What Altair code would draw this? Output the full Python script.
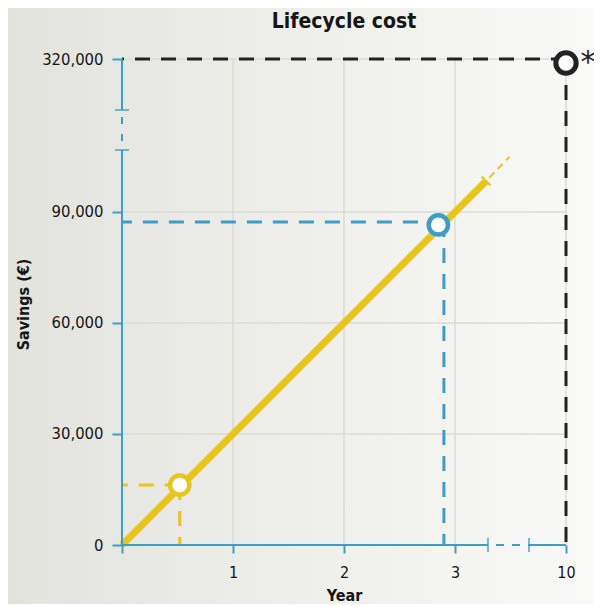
import altair as alt
import pandas as pd

# ---------------- data ----------------
TITLE = "Lifecycle cost"
X_TITLE = "Year"
Y_TITLE = "Savings (€)"

x_tick_years = [0, 1, 2, 3, 10]
x_tick_labels = ["", "1", "2", "3", "10"]
y_tick_values = [0, 30000, 60000, 90000, 320000]
y_tick_labels = ["0", "30,000", "60,000", "90,000", "320,000"]

# savings line
line_years = [0, 3.28]
line_values = [0, 98400]
ext_years = [3.31, 3.49]
ext_values = [99300, 104900]

# highlighted points
point_names = ["yellow", "blue", "black"]
point_years = [0.52, 2.85, 10]
point_values = [16200, 86500, 320000]
guide_years = [0.52, 2.90, 10]
guide_values = [16200, 87300, 320000]

# axis breaks (in data units, before the break)
x_break = [3.297, 3.667]
y_break = [106760, 117570]

# ---------------- style ----------------
FONT = "'Liberation Sans Narrow', 'DejaVu Sans Condensed', sans-serif"
BLUE = "#3b9dc8"
YELLOW = "#e8c41f"
BLACK = "#222222"
GRID = "#dcdcd6"
TEXT = "#151515"
point_colors = [YELLOW, BLUE, BLACK]

W, H = 444, 486
PAD = {"left": 114, "top": 51, "right": 28, "bottom": 59}

X_TOP = 4.0        # axis position of year 10 (after the break)
Y_TOP = 131350     # axis position of 320,000 (after the break)


def xpos(year):
    return year if year <= 3.6 else X_TOP + (year - 10) / 20.0


def ypos(v):
    return v if v <= 110000 else Y_TOP + (v - 320000) / 100.0


def label_expr(positions, labels):
    expr = "''"
    for p, l in reversed(list(zip(positions, labels))):
        expr = f"abs(datum.value - {p}) < 1e-6 ? '{l}' : ({expr})"
    return expr


x_pos_ticks = [xpos(v) for v in x_tick_years]
y_pos_ticks = [ypos(v) for v in y_tick_values]

XS = alt.Scale(domain=[0, X_TOP], nice=False, zero=False)
YS = alt.Scale(domain=[0, Y_TOP], nice=False, zero=False)

XAXIS = alt.Axis(
    values=x_pos_ticks, labelExpr=label_expr(x_pos_ticks, x_tick_labels),
    domain=False, grid=False, ticks=True, tickColor=BLUE, tickWidth=2, tickSize=8,
    labelFont=FONT, labelFontSize=16, labelColor=TEXT, labelPadding=11,
    labelFlush=False, labelOverlap=False,
    title=X_TITLE, titleFont=FONT, titleFontSize=16, titleFontWeight="bold",
    titleColor=TEXT, titleBaseline="top", titleY=42, titleX=W / 2, titleAlign="center",
    zindex=1,
)
YAXIS = alt.Axis(
    values=y_pos_ticks, labelExpr=label_expr(y_pos_ticks, y_tick_labels),
    domain=False, grid=False, ticks=True, tickColor=BLUE, tickWidth=2, tickSize=10,
    labelFont=FONT, labelFontSize=16.5, labelColor=TEXT, labelPadding=9,
    labelFlush=False, labelOverlap=False,
    title=Y_TITLE, titleFont=FONT, titleFontSize=16, titleFontWeight="bold",
    titleColor=TEXT, titleAngle=270, titleBaseline="alphabetic", titleAlign="center",
    titleX=-94, titleY=245,
    zindex=1,
)


def X(f):
    return alt.X(f, type="quantitative", scale=XS, axis=XAXIS)


def Y(f):
    return alt.Y(f, type="quantitative", scale=YS, axis=YAXIS)


# ---------------- layers ----------------
bg = alt.Chart(pd.DataFrame({"a": [0]})).mark_rect(
    color=alt.LinearGradient(
        gradient="linear", x1=0, x2=1, y1=0, y2=0,
        stops=[alt.GradientStop(color="#e3e3de", offset=0),
               alt.GradientStop(color="#f9f9f7", offset=1)],
    )
).encode(
    x=alt.value(-PAD["left"]), x2=alt.value(W + PAD["right"]),
    y=alt.value(-PAD["top"]), y2=alt.value(H + PAD["bottom"]),
)

vgrid_df = pd.DataFrame({"x": x_pos_ticks[1:], "y0": 0, "y1": Y_TOP})
hgrid_df = pd.DataFrame({"y": y_pos_ticks[1:], "x0": 0, "x1": X_TOP})
vgrid = alt.Chart(vgrid_df).mark_rule(color=GRID, strokeWidth=1.6).encode(
    x=X("x"), y=Y("y0"), y2="y1")
hgrid = alt.Chart(hgrid_df).mark_rule(color=GRID, strokeWidth=1.6).encode(
    y=Y("y"), x=X("x0"), x2="x1")

# axis lines with breaks
xdom_df = pd.DataFrame({"x0": [0, x_break[1]], "x1": [x_break[0], X_TOP], "y": 0})
xdom = alt.Chart(xdom_df).mark_rule(color=BLUE, strokeWidth=2).encode(
    x=X("x0"), x2="x1", y=Y("y"))
xgap = alt.Chart(pd.DataFrame({"x0": [x_break[0]], "x1": [x_break[1]], "y": [0]})).mark_rule(
    color=BLUE, strokeWidth=2, strokeDash=[8, 8], strokeDashOffset=8).encode(
    x=X("x0"), x2="x1", y=Y("y"))
xcaps = alt.Chart(pd.DataFrame({"x": x_break, "y": 0})).mark_tick(
    color=BLUE, orient="vertical", size=14, thickness=2).encode(x=X("x"), y=Y("y"))

ydom_df = pd.DataFrame({"y0": [0, y_break[1]], "y1": [y_break[0], Y_TOP], "x": 0})
ydom = alt.Chart(ydom_df).mark_rule(color=BLUE, strokeWidth=2).encode(
    y=Y("y0"), y2="y1", x=X("x"))
ygap = alt.Chart(pd.DataFrame({"y0": [y_break[0]], "y1": [y_break[1]], "x": [0]})).mark_rule(
    color=BLUE, strokeWidth=2, strokeDash=[7, 10], strokeDashOffset=8).encode(
    y=Y("y0"), y2="y1", x=X("x"))
ycaps = alt.Chart(pd.DataFrame({"y": y_break, "x": 0})).mark_tick(
    color=BLUE, orient="horizontal", size=14, thickness=2).encode(x=X("x"), y=Y("y"))

# guide dashed lines
pts = pd.DataFrame({
    "name": point_names,
    "x": [xpos(v) for v in point_years],
    "y": [ypos(v) for v in point_values],
    "gx": [xpos(v) for v in guide_years],
    "gy": [ypos(v) for v in guide_values],
    "zero": 0.0,
})
CS = alt.Scale(domain=point_names, range=point_colors)

hguide = alt.Chart(pts).mark_rule(strokeWidth=3, strokeDash=[15, 11]).encode(
    x=X("gx"), x2="zero", y=Y("gy"), color=alt.Color("name:N", scale=CS, legend=None))
vguide = alt.Chart(pts).mark_rule(strokeWidth=3, strokeDash=[15, 11]).encode(
    y=Y("gy"), y2="zero", x=X("gx"), color=alt.Color("name:N", scale=CS, legend=None))

# savings line
line_df = pd.DataFrame({"x": [xpos(v) for v in line_years], "y": line_values})
ext_df = pd.DataFrame({"x": [xpos(v) for v in ext_years], "y": ext_values})
line = alt.Chart(line_df).mark_line(color=YELLOW, strokeWidth=7, strokeCap="butt").encode(
    x=X("x"), y=Y("y"))
ext = alt.Chart(ext_df).mark_line(color=YELLOW, strokeWidth=2, strokeDash=[7, 5]).encode(
    x=X("x"), y=Y("y"))
endcap = alt.Chart(line_df.tail(1)).mark_point(
    shape="M-1,-1L1,1", size=80, strokeWidth=2, color=YELLOW, opacity=1).encode(
    x=X("x"), y=Y("y"))

# points
cpts = alt.Chart(pts).transform_filter(alt.datum.name != "black").mark_point(
    shape="circle", fill="white", fillOpacity=1, opacity=1, strokeWidth=4.5, size=370).encode(
    x=X("x"), y=Y("y"), stroke=alt.Stroke("name:N", scale=CS, legend=None))
bpt = alt.Chart(pts).transform_filter(alt.datum.name == "black").mark_point(
    shape="circle", fill="white", fillOpacity=1, opacity=1, strokeWidth=5, size=415).encode(
    x=X("x"), y=Y("y"), yOffset=alt.value(4),
    stroke=alt.Stroke("name:N", scale=CS, legend=None))
star = alt.Chart(pts).transform_filter(alt.datum.name == "black").mark_text(
    text="*", font="DejaVu Sans", fontSize=30, color=BLACK, dx=22, dy=4, baseline="middle").encode(
    x=X("x"), y=Y("y"))

chart = alt.layer(
    bg, vgrid, hgrid, hguide, vguide, line, ext, endcap,
    xdom, xgap, xcaps, ydom, ygap, ycaps, cpts, bpt, star,
).properties(
    width=W, height=H,
    autosize="none",
    padding=PAD,
    title=alt.TitleParams(TITLE, font=FONT, fontSize=21, fontWeight="bold", color=TEXT,
                          anchor="middle", frame="group", baseline="alphabetic",
                          offset=0, dy=41),
).configure_view(stroke=None).configure(background="#f0f0ec")

chart.save("out.html", embed_options={"renderer": "svg", "actions": False})
